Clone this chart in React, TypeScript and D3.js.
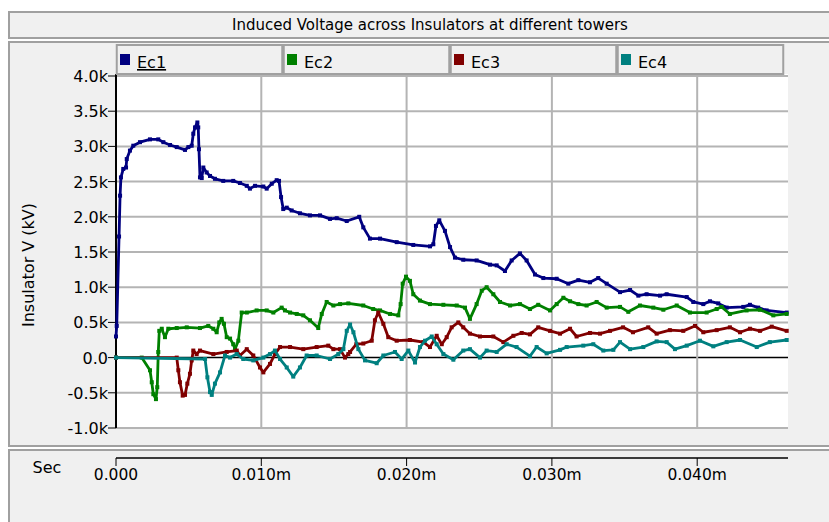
import * as React from 'react';
import * as d3 from 'd3';

type Pt = [number, number];

// time in units of 0.001 (axis shows 0.010m etc.), voltage in kV
const ec1: Pt[] = [
  [0, 300], [0.05, 450], [0.21, 1720], [0.28, 2300], [0.34, 2560], [0.5, 2680], [0.69, 2700],
  [0.74, 2820], [0.96, 2940], [1.19, 3010], [1.65, 3060], [2.34, 3100], [2.91, 3100], [3.26, 3060],
  [3.72, 3020], [4.18, 2990], [4.75, 2950], [4.98, 2990], [5.21, 3010], [5.32, 3180], [5.44, 3270],
  [5.6, 3340], [5.66, 3270], [5.71, 2960], [5.78, 2560], [5.9, 2550], [6.01, 2700], [6.24, 2630],
  [6.47, 2580], [6.81, 2540], [7.38, 2510], [8.07, 2510], [8.53, 2480], [9.0, 2440], [9.22, 2400],
  [9.57, 2440], [10.14, 2430], [10.37, 2400], [10.72, 2470], [11.06, 2520], [11.22, 2510],
  [11.36, 2280], [11.51, 2110], [11.75, 2130], [12.09, 2090], [12.66, 2050], [13.35, 2020],
  [14.04, 2020], [14.73, 1970], [15.19, 1980], [15.88, 1940], [16.74, 2000], [17.02, 1850],
  [17.48, 1690], [18.17, 1690], [19.32, 1640], [20.46, 1600], [21.61, 1580], [21.84, 1610],
  [22.02, 1870], [22.25, 1950], [22.64, 1800], [22.99, 1570], [23.33, 1420], [23.9, 1390],
  [24.82, 1380], [25.74, 1320], [26.2, 1310], [26.77, 1230], [27.23, 1380], [27.8, 1480],
  [28.26, 1380], [28.84, 1180], [29.41, 1130], [30.33, 1120], [31.13, 1050], [31.82, 1100],
  [32.62, 1070], [33.19, 1130], [33.77, 1050], [34.69, 930], [35.38, 960], [35.95, 880],
  [36.52, 900], [37.44, 880], [37.9, 900], [39.28, 860], [39.73, 790], [40.42, 760], [40.88, 800],
  [41.45, 770], [42.03, 710], [43.17, 720], [43.63, 750], [44.2, 710], [44.78, 670], [46.16, 640],
];

const ec2: Pt[] = [
  [0, 0], [1.77, 0], [2.34, -180], [2.46, -350], [2.57, -520], [2.75, -590], [2.84, -420],
  [2.91, 80], [2.98, 380], [3.15, 410], [3.37, 290], [3.6, 410], [4.18, 420], [4.87, 430],
  [5.78, 420], [6.35, 450], [6.7, 410], [6.93, 360], [7.11, 500], [7.27, 550], [7.43, 480],
  [7.62, 290], [7.85, 270], [8.07, 190], [8.19, 120], [8.42, 240], [8.65, 640], [9.0, 640],
  [9.68, 670], [10.37, 670], [10.83, 640], [11.4, 710], [11.63, 670], [11.98, 640], [12.44, 620],
  [12.89, 600], [13.35, 530], [13.92, 420], [14.16, 620], [14.5, 790], [14.96, 740], [15.42, 760],
  [15.99, 770], [17.02, 740], [17.7, 690], [18.17, 670], [18.86, 620], [19.43, 600], [19.59, 760],
  [19.73, 1050], [19.96, 1150], [20.23, 1090], [20.46, 900], [20.92, 810], [21.61, 760],
  [22.53, 750], [23.45, 740], [24.02, 710], [24.36, 550], [24.82, 760], [25.17, 950], [25.51, 1000],
  [25.97, 900], [26.43, 790], [27.12, 740], [27.8, 760], [28.49, 690], [29.06, 750], [29.87, 670],
  [30.33, 760], [30.79, 850], [31.25, 800], [31.82, 760], [32.39, 740], [33.08, 790], [33.77, 710],
  [34.69, 720], [35.26, 650], [36.06, 740], [36.98, 710], [37.67, 680], [38.59, 740], [39.5, 640],
  [40.65, 640], [41.34, 690], [41.68, 720], [42.25, 620], [43.4, 670], [44.32, 680], [45.24, 600],
  [46.16, 620],
];

const ec3: Pt[] = [
  [0, 0], [4.18, 0], [4.29, -180], [4.4, -350], [4.59, -540], [4.75, -530], [4.91, -370],
  [5.09, -230], [5.21, -40], [5.32, 100], [5.55, 50], [5.78, 100], [6.7, 50], [7.62, 80],
  [8.31, 100], [8.53, 30], [9.0, 120], [9.45, 30], [9.91, -140], [10.14, -210], [10.6, -90],
  [10.94, 50], [11.29, 150], [11.98, 150], [12.89, 120], [13.81, 150], [14.61, 170], [14.96, 120],
  [15.42, 120], [15.76, 0], [15.99, 50], [16.11, 80], [16.54, 190], [17.02, 200], [17.6, 240],
  [17.82, 530], [18.05, 640], [18.4, 480], [18.74, 290], [19.32, 240], [20.23, 250], [21.15, 220],
  [21.61, 150], [22.07, 310], [22.42, 190], [22.76, 290], [23.1, 430], [23.56, 500], [23.9, 430],
  [24.36, 340], [25.05, 300], [25.97, 300], [26.66, 220], [27.35, 310], [27.92, 350], [28.49, 330],
  [29.06, 430], [29.87, 380], [30.56, 340], [31.25, 410], [31.7, 300], [32.62, 350], [33.31, 340],
  [34.0, 380], [34.9, 430], [35.58, 360], [36.63, 430], [37.21, 340], [38.12, 390], [39.04, 380],
  [39.85, 450], [40.42, 360], [41.34, 390], [42.25, 430], [42.95, 360], [43.63, 410], [44.32, 380],
  [45.13, 440], [46.16, 380],
];

const ec4: Pt[] = [
  [0, 0], [6.13, -20], [6.29, -280], [6.47, -490], [6.59, -530], [6.81, -370], [7.16, -210],
  [7.5, 30], [7.85, 0], [8.31, 50], [8.76, -20], [9.45, -40], [10.14, 0], [10.6, 50], [10.94, 100],
  [11.29, -20], [11.75, -140], [12.2, -270], [12.66, -140], [13.12, 30], [13.81, 30], [14.73, -20],
  [15.3, 50], [15.65, 120], [15.88, 380], [16.11, 470], [16.34, 360], [16.68, 120], [17.14, -40],
  [17.94, -80], [18.4, 30], [19.2, 80], [19.66, -20], [20.12, 100], [20.58, -70], [20.92, 150],
  [21.27, 240], [21.73, 300], [22.07, 190], [22.53, 50], [23.22, -30], [23.9, 100], [24.36, 120],
  [25.05, 0], [25.51, 100], [26.2, 80], [26.89, 190], [27.57, 150], [28.49, 20], [28.95, 150],
  [29.64, 60], [30.56, 110], [31.02, 150], [32.16, 170], [32.85, 190], [33.54, 100], [34.23, 110],
  [34.69, 220], [35.38, 120], [36.29, 150], [37.21, 230], [37.9, 220], [38.47, 120], [39.28, 170],
  [40.19, 240], [41.11, 160], [42.03, 220], [42.95, 250], [44.1, 150], [45.0, 220], [46.16, 250],
];

const seriesNames = ['Ec1', 'Ec2', 'Ec3', 'Ec4'];
const seriesColors = ['#000080', '#008000', '#800000', '#008080'];
const seriesData = [ec1, ec2, ec3, ec4];

const yTicks = [-1000, -500, 0, 500, 1000, 1500, 2000, 2500, 3000, 3500, 4000];
const xTicks = [0, 10, 20, 30, 40];

const title = 'Induced Voltage across Insulators at different towers';
const yLabel = 'Insulator V (kV)';
const xLabel = 'Sec';

const font = '"DejaVu Sans", Verdana, sans-serif';

export default function App() {
  const W = 829;
  const H = 522;
  const plot = { left: 116, right: 788, top: 76, bottom: 428 };

  const x = d3.scaleLinear().domain([0, 46.25]).range([plot.left, plot.right]);
  const y = d3.scaleLinear().domain([-1000, 4000]).range([plot.bottom, plot.top]);

  const line = d3
    .line<Pt>()
    .x(d => x(d[0]))
    .y(d => y(d[1]));

  const fmtY = (v: number) => (v === 0 ? '0.0' : (v / 1000).toFixed(1) + 'k');
  const fmtX = (v: number) => (v === 0 ? '0.000' : (v / 1000).toFixed(3) + 'm');

  // legend boxes sit on top of the plot, one per series
  const legendLeft = 116;
  const legendW = 167;
  const legendGap = 1.5;

  return (
    <div style={{ position: 'absolute', left: 0, top: 0 }}>
      <svg width={W} height={H} style={{ display: 'block', fontFamily: font }}>
        <rect x={0} y={0} width={W} height={H} fill='#fff' />

        {/* title panel */}
        <rect x={9} y={12} width={830} height={26} fill='#f0f0f0' stroke='#a0a0a0' strokeWidth={2} />
        <text x={430} y={30} textAnchor='middle' fontSize={15} fill='#000'>
          {title}
        </text>

        {/* plot panel */}
        <rect x={9} y={42} width={830} height={404} fill='#f0f0f0' stroke='#a0a0a0' strokeWidth={2} />
        <rect x={plot.left} y={74} width={plot.right - plot.left} height={plot.bottom - 74} fill='#fff' />

        {/* grid */}
        {yTicks.map(t => (
          <line key={'gy' + t} x1={plot.left} x2={plot.right} y1={y(t)} y2={y(t)}
            stroke={t === 0 ? '#000' : '#b4b4b4'} strokeWidth={t === 0 ? 1.5 : 2} />
        ))}
        {xTicks.filter(t => t > 0).map(t => (
          <line key={'gx' + t} x1={x(t)} x2={x(t)} y1={74} y2={plot.bottom}
            stroke='#b4b4b4' strokeWidth={2} />
        ))}

        {/* y axis */}
        <line x1={plot.left} x2={plot.left} y1={74} y2={plot.bottom} stroke='#000' strokeWidth={2} />
        {yTicks.map(t => (
          <g key={'ty' + t}>
            <line x1={plot.left - 8} x2={plot.left} y1={y(t)} y2={y(t)} stroke='#000' strokeWidth={1} />
            <text x={plot.left - 8} y={y(t) + 6} textAnchor='end' fontSize={16} fill='#000'>
              {fmtY(t)}
            </text>
          </g>
        ))}
        <text transform={`translate(34, 265) rotate(-90)`}
          textAnchor='middle' fontSize={16} fill='#000'>
          {yLabel}
        </text>

        {/* series */}
        {seriesData.map((data, i) => (
          <g key={seriesNames[i]}>
            <path d={line(data) || ''} fill='none' stroke={seriesColors[i]} strokeWidth={2.8}
              strokeLinejoin='round' />
            {data.map((d, j) => (
              <rect key={j} x={x(d[0]) - 2} y={y(d[1]) - 2} width={4} height={4} fill={seriesColors[i]} />
            ))}
          </g>
        ))}

        {/* legend */}
        {seriesNames.map((name, i) => {
          const lx = legendLeft + i * legendW;
          return (
            <g key={'lg' + name}>
              <rect x={lx + legendGap / 2} y={45} width={legendW - legendGap} height={29}
                fill='#f0f0f0' stroke='#a0a0a0' strokeWidth={2} />
              <rect x={lx + 4} y={54} width={10} height={11} fill={seriesColors[i]} />
              <text x={lx + 21} y={68} fontSize={16} fill='#000'
                textDecoration={i === 0 ? 'underline' : undefined}>
                {name}
              </text>
            </g>
          );
        })}

        {/* x axis panel */}
        <rect x={9} y={450} width={830} height={80} fill='#f0f0f0' stroke='#a0a0a0' strokeWidth={2} />
        <line x1={plot.left} x2={plot.right} y1={458} y2={458} stroke='#000' strokeWidth={1.5} />
        {xTicks.map(t => (
          <g key={'tx' + t}>
            <line x1={x(t)} x2={x(t)} y1={458} y2={466} stroke='#000' strokeWidth={1} />
            <text x={x(t)} y={480} textAnchor='middle' fontSize={15.5} fill='#000'>
              {fmtX(t)}
            </text>
          </g>
        ))}
        <text x={47} y={473} textAnchor='middle' fontSize={16} fill='#000'>
          {xLabel}
        </text>
      </svg>
    </div>
  );
}
